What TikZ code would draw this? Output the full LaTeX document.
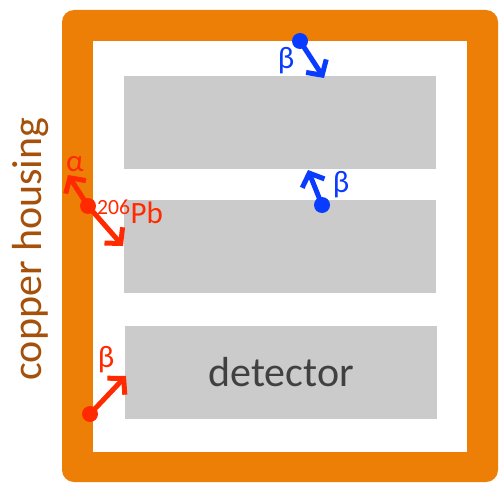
\documentclass[tikz,border=0pt]{standalone}
\usepackage{fontspec}
\setmainfont{Carlito}
\usetikzlibrary{arrows.meta}
\definecolor{copper}{HTML}{EE7F06}
\definecolor{copperdark}{HTML}{A5510B}
\definecolor{detgray}{HTML}{CBCBCB}
\definecolor{detink}{HTML}{404040}
\definecolor{alphared}{HTML}{FF2A00}
\definecolor{betablue}{HTML}{0A3CFF}

\begin{document}
\begin{tikzpicture}[x=1pt,y=-1pt,
  det/.style={fill=detgray,minimum width=312pt,minimum height=93pt,inner sep=0pt},
  dot/.style={circle,fill,inner sep=0pt,minimum size=16pt},
  track/.style={line width=5pt,-{Straight Barb[length=11pt,width=24pt,line width=5pt]}},
  lbl/.style={font=\fontsize{31}{34}\selectfont,inner sep=0pt}]
\useasboundingbox (0,0) rectangle (500,484);
% housing
\fill[copper,rounded corners=12pt] (62,10) rectangle (498,482);
\fill[white] (93,41) rectangle (467,452);
\node[rotate=90,text=copperdark,font=\fontsize{42}{48}\selectfont] (housing) at (31,249) {copper housing};
% detectors
\node[det] (det1) at (280,122.5) {};
\node[det] (det2) at (280,246.5) {};
\node[det,text=detink,font=\fontsize{42}{48}\selectfont] (det3) at (281,372) {detector};
% alpha decay at the wall
\node[dot,alphared] (pb) at (88,206) {};
\coordinate (alphaend) at (68,175);
\coordinate (pbend) at (123,246);
\draw[track,alphared] (pb.center) -- (alphaend);
\draw[track,alphared] (pb.center) -- (pbend);
\node[lbl,text=alphared] (alpha) at (75,164) {α};
\node[lbl,text=alphared,anchor=west] (pblbl) at (97,212) {\textsuperscript{206}Pb};
% beta from the wall
\node[dot,alphared] (wall) at (90,414) {};
\coordinate (wallend) at (126,376);
\draw[track,alphared] (wall.center) -- (wallend);
\node[lbl,text=alphared] (beta1) at (106,360) {β};
% beta from the surfaces
\node[dot,betablue] (top) at (300,41) {};
\coordinate (topend) at (324,78);
\draw[track,betablue] (top.center) -- (topend);
\node[lbl,text=betablue] (beta2) at (286,61) {β};
\node[dot,betablue] (mid) at (322,205) {};
\coordinate (midend) at (308,170);
\draw[track,betablue] (mid.center) -- (midend);
\node[lbl,text=betablue] (beta3) at (341,185) {β};
\end{tikzpicture}
\end{document}
